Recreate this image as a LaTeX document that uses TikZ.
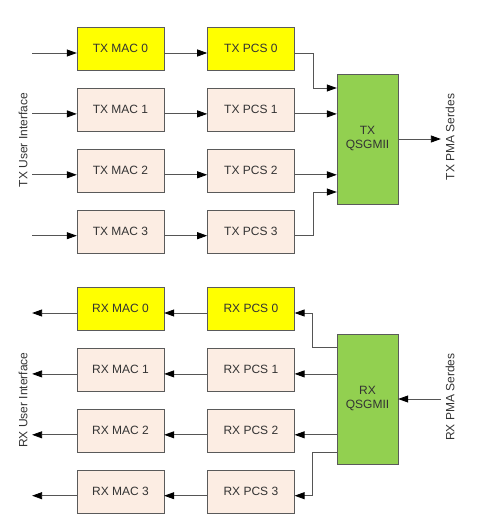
\documentclass[tikz,border=0pt]{standalone}
\usepackage{fontspec}
\setmainfont{Liberation Sans}
\usepackage{xcolor}
\usepackage{tikz}
\usetikzlibrary{arrows.meta,positioning}
\definecolor{MacPeach}{HTML}{FCEDE3}
\definecolor{MacYellow}{HTML}{FFFF00}
\definecolor{QsgGreen}{HTML}{92D050}
\definecolor{BoxLine}{HTML}{5A5A5A}
\definecolor{LineGray}{HTML}{555555}
\definecolor{TextGray}{HTML}{333333}

\begin{document}
\begin{tikzpicture}[
	x=1pt, y=-1pt,
	node distance=17.5pt and 43pt,
	box/.style={draw=BoxLine, fill=MacPeach, minimum width=87pt, minimum height=43pt, inner sep=0pt, text=TextGray, font=\fontsize{12}{14}\selectfont},
	hot/.style={box, fill=MacYellow},
	qsg/.style={box, fill=QsgGreen, minimum width=61pt, minimum height=130pt, align=center},
	side/.style={rotate=90, inner sep=4.5pt, text=TextGray, font=\fontsize{12}{14}\selectfont},
	arrow/.style={-{Triangle[length=10pt,width=7pt,color=black]}, draw=LineGray, line width=0.8pt}
]
\useasboundingbox (0,0) rectangle (480,524);

% transmit path
\node[hot] (tmac0) at (120.5,48.5) {TX MAC 0};
\node[box, below=of tmac0] (tmac1) {TX MAC 1};
\node[box, below=of tmac1] (tmac2) {TX MAC 2};
\node[box, below=of tmac2] (tmac3) {TX MAC 3};
\node[hot, right=of tmac0] (tpcs0) {TX PCS 0};
\node[box, right=of tmac1] (tpcs1) {TX PCS 1};
\node[box, right=of tmac2] (tpcs2) {TX PCS 2};
\node[box, right=of tmac3] (tpcs3) {TX PCS 3};
\node[qsg] (tqsg) at (367.5,139) {TX\\QSGMII};
\node[side] (tui) at (23,140) {TX User Interface};
\node[side] (tpma) at (450,137) {TX PMA Serdes};

\draw[arrow] ([yshift=-4.5pt]tmac0.west -| tui.south) -- ([yshift=-4.5pt]tmac0.west);
\draw[arrow] ([yshift=-4.5pt]tmac1.west -| tui.south) -- ([yshift=-4.5pt]tmac1.west);
\draw[arrow] ([yshift=-4.5pt]tmac2.west -| tui.south) -- ([yshift=-4.5pt]tmac2.west);
\draw[arrow] ([yshift=-4.5pt]tmac3.west -| tui.south) -- ([yshift=-4.5pt]tmac3.west);
\draw[arrow] ([yshift=-4.5pt]tmac0.east) -- ([yshift=-4.5pt]tpcs0.west);
\draw[arrow] ([yshift=-4.5pt]tmac1.east) -- ([yshift=-4.5pt]tpcs1.west);
\draw[arrow] ([yshift=-4.5pt]tmac2.east) -- ([yshift=-4.5pt]tpcs2.west);
\draw[arrow] ([yshift=-4.5pt]tmac3.east) -- ([yshift=-4.5pt]tpcs3.west);
\draw[arrow] ([yshift=-4.5pt]tpcs0.east) -- ++(19pt,0) |- ([yshift=51pt]tqsg.west);
\draw[arrow] ([yshift=-4.5pt]tpcs1.east) -- ([yshift=-4.5pt]tpcs1.east -| tqsg.west);
\draw[arrow] ([yshift=-4.5pt]tpcs2.east) -- ([yshift=-4.5pt]tpcs2.east -| tqsg.west);
\draw[arrow] ([yshift=-4.5pt]tpcs3.east) -- ++(19pt,0) |- ([yshift=-53pt]tqsg.west);
\draw[arrow] (tqsg.east) -- (tqsg.east -| tpma.north);

% receive path
\node[hot] (rmac0) at (120.5,308.5) {RX MAC 0};
\node[box, below=of rmac0] (rmac1) {RX MAC 1};
\node[box, below=of rmac1] (rmac2) {RX MAC 2};
\node[box, below=of rmac2] (rmac3) {RX MAC 3};
\node[hot, right=of rmac0] (rpcs0) {RX PCS 0};
\node[box, right=of rmac1] (rpcs1) {RX PCS 1};
\node[box, right=of rmac2] (rpcs2) {RX PCS 2};
\node[box, right=of rmac3] (rpcs3) {RX PCS 3};
\node[qsg] (rqsg) at (367.5,399) {RX\\QSGMII};
\node[side] (rui) at (23,400) {RX User Interface};
\node[side] (rpma) at (450,397) {RX PMA Serdes};

\draw[arrow] ([yshift=-4.5pt]rmac0.west) -- ([yshift=-4.5pt]rmac0.west -| rui.south);
\draw[arrow] ([yshift=-4.5pt]rmac1.west) -- ([yshift=-4.5pt]rmac1.west -| rui.south);
\draw[arrow] ([yshift=-4.5pt]rmac2.west) -- ([yshift=-4.5pt]rmac2.west -| rui.south);
\draw[arrow] ([yshift=-4.5pt]rmac3.west) -- ([yshift=-4.5pt]rmac3.west -| rui.south);
\draw[arrow] ([yshift=-4.5pt]rpcs0.west) -- ([yshift=-4.5pt]rmac0.east);
\draw[arrow] ([yshift=-4.5pt]rpcs1.west) -- ([yshift=-4.5pt]rmac1.east);
\draw[arrow] ([yshift=-4.5pt]rpcs2.west) -- ([yshift=-4.5pt]rmac2.east);
\draw[arrow] ([yshift=-4.5pt]rpcs3.west) -- ([yshift=-4.5pt]rmac3.east);
\draw[arrow] ([yshift=52pt]rqsg.west) -- ++(-24pt,0) |- ([yshift=-4.5pt]rpcs0.east);
\draw[arrow] ([yshift=-4.5pt]rpcs1.east -| rqsg.west) -- ([yshift=-4.5pt]rpcs1.east);
\draw[arrow] ([yshift=-4.5pt]rpcs2.east -| rqsg.west) -- ([yshift=-4.5pt]rpcs2.east);
\draw[arrow] ([yshift=-53pt]rqsg.west) -- ++(-24pt,0) |- ([yshift=-4.5pt]rpcs3.east);
\draw[arrow] (rqsg.east -| rpma.north) -- (rqsg.east);
\end{tikzpicture}
\end{document}
